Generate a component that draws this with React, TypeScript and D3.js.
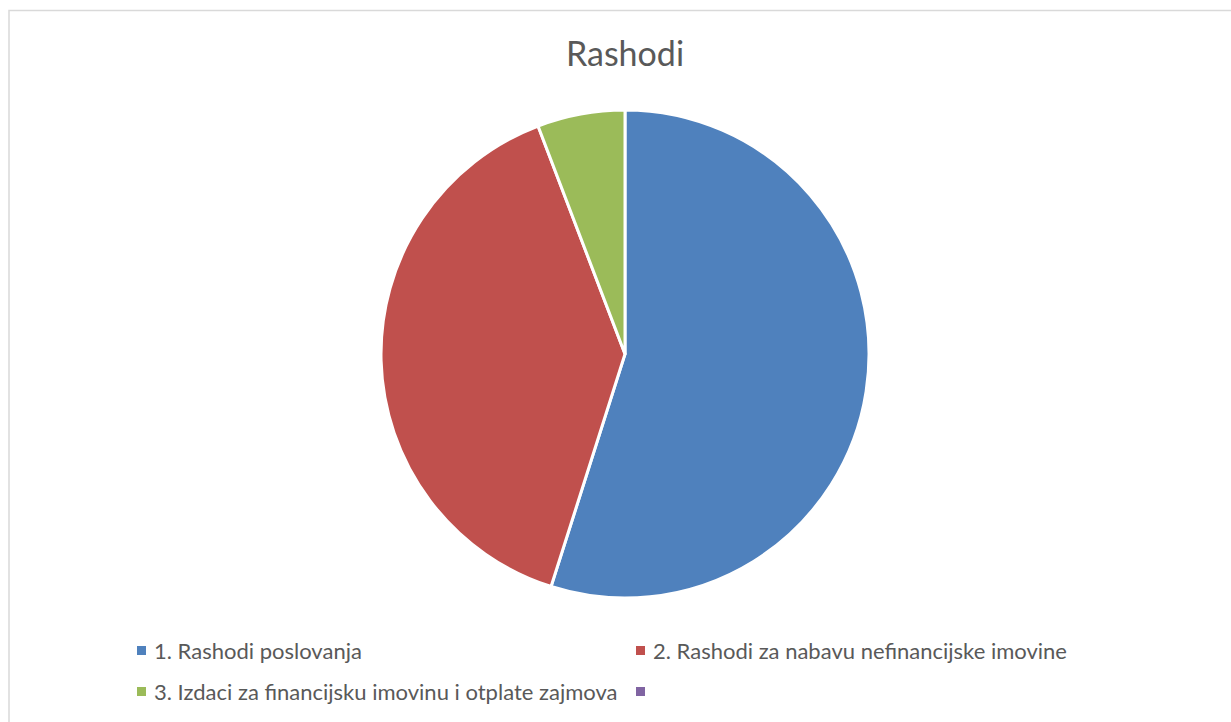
import React from "react";
import * as d3 from "d3";

// slice labels and shares
const categories = [
  "1. Rashodi poslovanja",
  "2. Rashodi za nabavu nefinancijske imovine",
  "3. Izdaci za financijsku imovinu i otplate zajmova",
  "",
];
const values = [54.9, 39.3, 5.8, 0];
const colors = ["#4F81BD", "#C0504D", "#9BBB59", "#8064A2"];

const W = 1231;
const H = 722;

const App = () => {
  const cx = 625;
  const cy = 354;
  const r = 244;

  const pie = d3
    .pie<number>()
    .sort(null)
    .value((d) => d);
  const arcs = pie(values);
  const arc = d3.arc<d3.PieArcDatum<number>>().innerRadius(0).outerRadius(r);

  const legendX = d3.scaleOrdinal<number, number>().domain([0, 1]).range([137, 636]);
  const legendY = d3.scaleLinear().domain([0, 1]).range([651, 692]);

  return (
    <svg
      width={W}
      height={H}
      style={{ position: "absolute", left: 0, top: 0, background: "#fff" }}
      fontFamily="Lato, 'Open Sans', sans-serif"
    >
      <rect x={9} y={10.5} width={W + 20} height={H + 20} fill="#fff" stroke="#d9d9d9" strokeWidth={1.5} />
      <text x={cx} y={66} textAnchor="middle" fontSize={34} fill="#595959">
        Rashodi
      </text>
      <g transform={`translate(${cx},${cy})`}>
        {arcs.map((a, i) =>
          a.value > 0 ? (
            <path key={i} d={arc(a) || ""} fill={colors[i]} stroke="#fff" strokeWidth={3} strokeLinejoin="round" />
          ) : null
        )}
      </g>
      <g>
        {categories.map((c, i) => {
          const x = legendX(i % 2);
          const y = legendY(Math.floor(i / 2));
          return (
            <g key={i}>
              <rect x={x} y={y - 5} width={9} height={9} fill={colors[i]} />
              <text x={x + 17} y={y + 8} fontSize={22} fill="#595959">
                {c}
              </text>
            </g>
          );
        })}
      </g>
    </svg>
  );
};

export default App;
